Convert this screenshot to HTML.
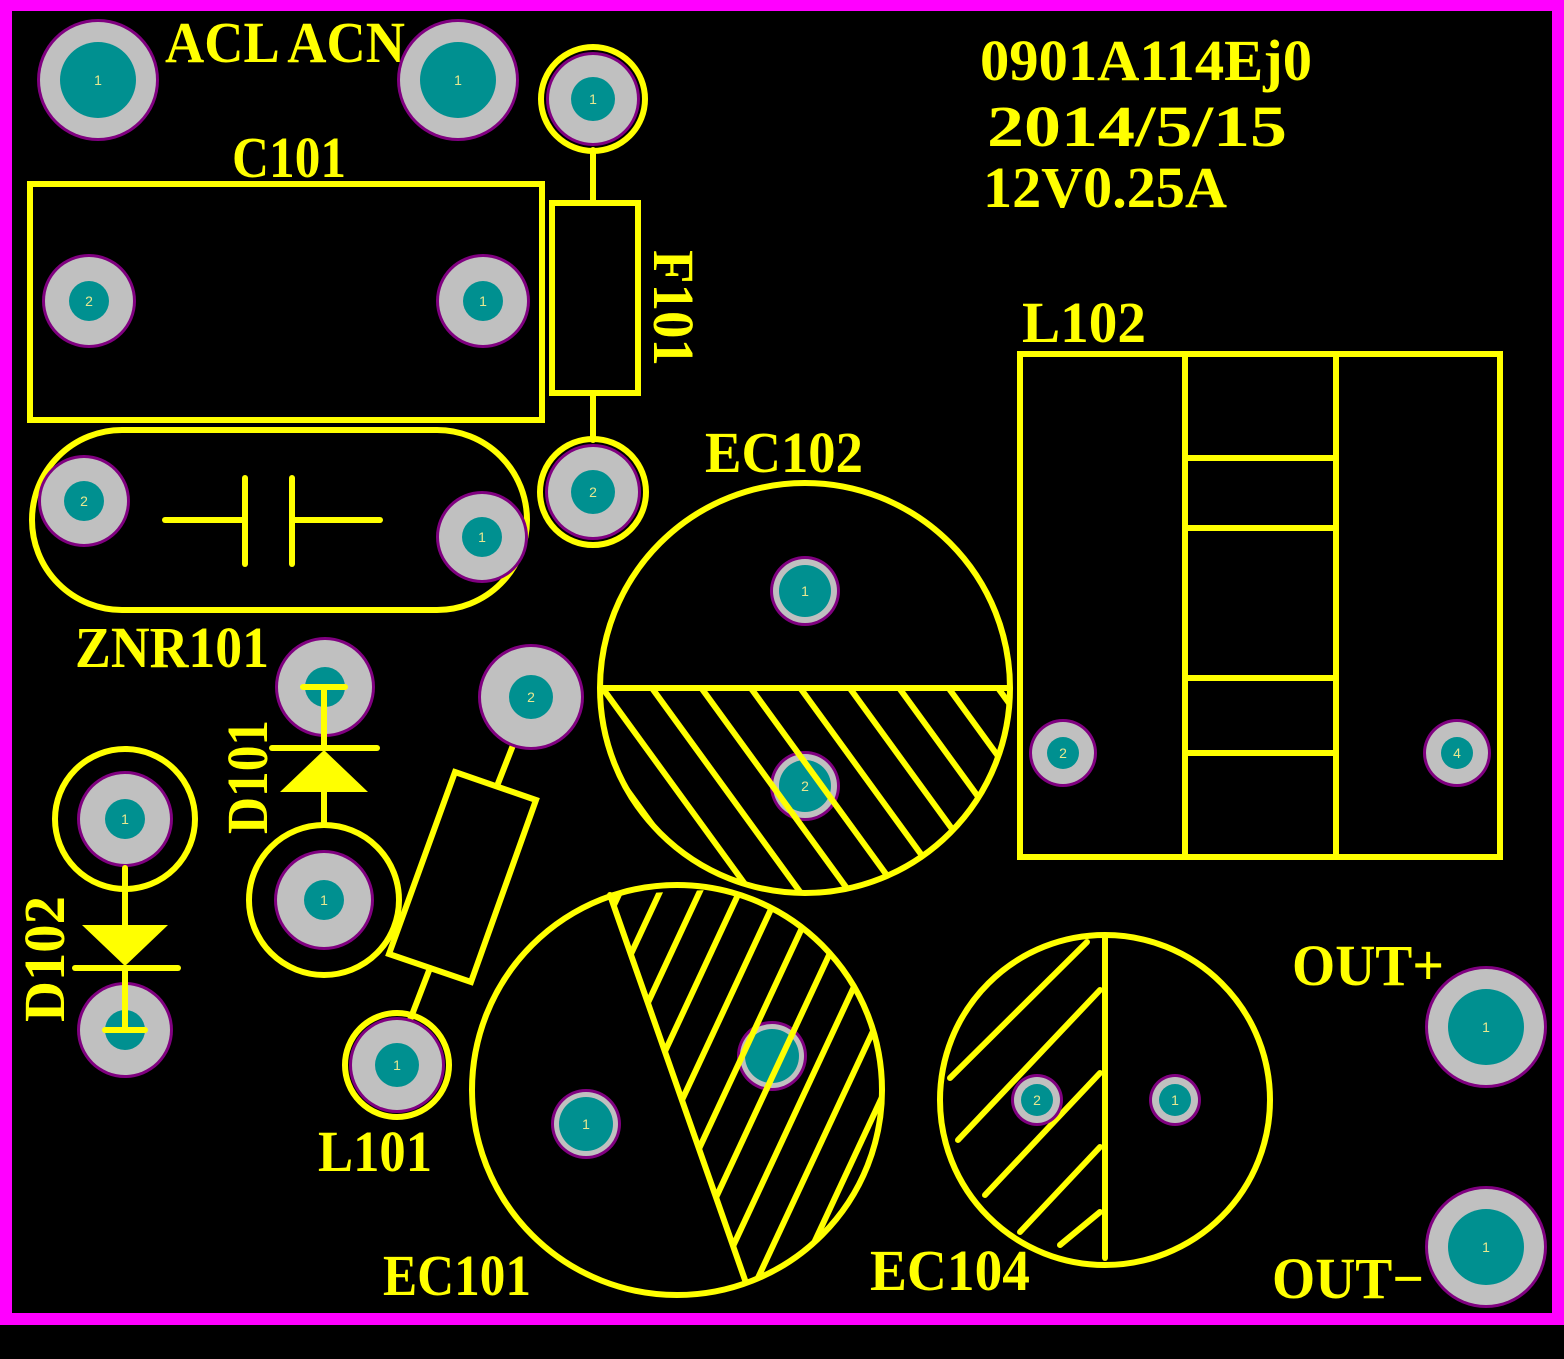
<!DOCTYPE html>
<html><head><meta charset="utf-8"><style>
html,body{margin:0;padding:0;background:#000;}
svg{display:block;}
text{font-family:"Liberation Serif",serif;font-weight:bold;fill:#ffff00;}
.n{font-family:"Liberation Sans",sans-serif;font-weight:normal;fill:#e8e890;text-anchor:middle;}
</style></head><body>
<svg width="1564" height="1359" viewBox="0 0 1564 1359" xmlns="http://www.w3.org/2000/svg">
<defs>
<pattern id="h1" width="40" height="40" patternUnits="userSpaceOnUse" patternTransform="rotate(-36)"><rect x="0" y="0" width="6" height="40" fill="#ff0"/></pattern>
<pattern id="h2" width="36" height="36" patternUnits="userSpaceOnUse" patternTransform="rotate(25)"><rect x="0" y="0" width="6" height="36" fill="#ff0"/></pattern>
<clipPath id="c1"><circle cx="805" cy="688" r="205"/></clipPath>
<clipPath id="c2"><circle cx="677" cy="1090" r="205"/></clipPath>
</defs>
<rect width="1564" height="1359" fill="#000"/>
<rect x="6" y="5" width="1552" height="1314" fill="none" stroke="#ff00ff" stroke-width="12"/>

<g fill="none" stroke="#ff0" stroke-width="6" stroke-linecap="round">
<rect x="30" y="184" width="512" height="236"/>
<rect x="552" y="203" width="86" height="190"/>
<line x1="593" y1="150" x2="593" y2="203"/><line x1="593" y1="393" x2="593" y2="440"/>
<circle cx="593" cy="99" r="52"/><circle cx="593" cy="492" r="53"/>
<rect x="32" y="430" width="495" height="180" rx="90"/>
<line x1="165" y1="520" x2="245" y2="520"/><line x1="245" y1="478" x2="245" y2="564"/>
<line x1="292" y1="478" x2="292" y2="564"/><line x1="292" y1="520" x2="380" y2="520"/>
<rect x="1020" y="354" width="480" height="503"/>
<line x1="1185" y1="354" x2="1185" y2="857"/><line x1="1336" y1="354" x2="1336" y2="857"/>
<line x1="1185" y1="458" x2="1336" y2="458"/><line x1="1185" y1="528" x2="1336" y2="528"/>
<line x1="1185" y1="678" x2="1336" y2="678"/><line x1="1185" y1="753" x2="1336" y2="753"/>
<circle cx="805" cy="688" r="205"/>
<circle cx="677" cy="1090" r="205"/>
<line x1="610" y1="895" x2="745" y2="1280"/>
<circle cx="1105" cy="1100" r="165"/>
<line x1="1105" y1="937" x2="1105" y2="1258"/>
<line x1="950" y1="1078" x2="1087" y2="942"/><line x1="958" y1="1140" x2="1100" y2="990"/>
<line x1="985" y1="1195" x2="1100" y2="1073"/><line x1="1020" y1="1232" x2="1100" y2="1147"/>
<line x1="1060" y1="1245" x2="1100" y2="1212"/>
<circle cx="324" cy="900" r="75"/>
<circle cx="125" cy="819" r="70"/>
<circle cx="397" cy="1065" r="52"/>
<polygon points="455,772 536,800 471,982 389,954"/>
<line x1="519" y1="730" x2="497" y2="786"/><line x1="430" y1="968" x2="410" y2="1020"/>
</g>
<rect x="600" y="685" width="410" height="6" fill="#ff0"/>

<g id="pads">
<g><circle cx="98" cy="80" r="61" fill="#800080"/><circle cx="98" cy="80" r="58" fill="#c0c0c0"/><circle cx="98" cy="80" r="38" fill="#009090"/></g>
<g><circle cx="458" cy="80" r="61" fill="#800080"/><circle cx="458" cy="80" r="58" fill="#c0c0c0"/><circle cx="458" cy="80" r="38" fill="#009090"/></g>
<g><circle cx="593" cy="99" r="47" fill="#800080"/><circle cx="593" cy="99" r="44" fill="#c0c0c0"/><circle cx="593" cy="99" r="22" fill="#009090"/></g>
<g><circle cx="593" cy="492" r="48" fill="#800080"/><circle cx="593" cy="492" r="45" fill="#c0c0c0"/><circle cx="593" cy="492" r="22" fill="#009090"/></g>
<g><circle cx="89" cy="301" r="47" fill="#800080"/><circle cx="89" cy="301" r="44" fill="#c0c0c0"/><circle cx="89" cy="301" r="20" fill="#009090"/></g>
<g><circle cx="483" cy="301" r="47" fill="#800080"/><circle cx="483" cy="301" r="44" fill="#c0c0c0"/><circle cx="483" cy="301" r="20" fill="#009090"/></g>
<g><circle cx="84" cy="501" r="46" fill="#800080"/><circle cx="84" cy="501" r="43" fill="#c0c0c0"/><circle cx="84" cy="501" r="20" fill="#009090"/></g>
<g><circle cx="482" cy="537" r="46" fill="#800080"/><circle cx="482" cy="537" r="43" fill="#c0c0c0"/><circle cx="482" cy="537" r="20" fill="#009090"/></g>
<g><circle cx="805" cy="591" r="35" fill="#800080"/><circle cx="805" cy="591" r="32" fill="#c0c0c0"/><circle cx="805" cy="591" r="26" fill="#009090"/></g>
<g><circle cx="805" cy="786" r="35" fill="#800080"/><circle cx="805" cy="786" r="32" fill="#c0c0c0"/><circle cx="805" cy="786" r="26" fill="#009090"/></g>
<g><circle cx="325" cy="687" r="50" fill="#800080"/><circle cx="325" cy="687" r="47" fill="#c0c0c0"/><circle cx="325" cy="687" r="20" fill="#009090"/></g>
<g><circle cx="324" cy="900" r="50" fill="#800080"/><circle cx="324" cy="900" r="47" fill="#c0c0c0"/><circle cx="324" cy="900" r="20" fill="#009090"/></g>
<g><circle cx="531" cy="697" r="53" fill="#800080"/><circle cx="531" cy="697" r="50" fill="#c0c0c0"/><circle cx="531" cy="697" r="22" fill="#009090"/></g>
<g><circle cx="397" cy="1065" r="48" fill="#800080"/><circle cx="397" cy="1065" r="45" fill="#c0c0c0"/><circle cx="397" cy="1065" r="22" fill="#009090"/></g>
<g><circle cx="125" cy="819" r="48" fill="#800080"/><circle cx="125" cy="819" r="45" fill="#c0c0c0"/><circle cx="125" cy="819" r="20" fill="#009090"/></g>
<g><circle cx="125" cy="1030" r="48" fill="#800080"/><circle cx="125" cy="1030" r="45" fill="#c0c0c0"/><circle cx="125" cy="1030" r="20" fill="#009090"/></g>
<g><circle cx="586" cy="1124" r="35" fill="#800080"/><circle cx="586" cy="1124" r="32" fill="#c0c0c0"/><circle cx="586" cy="1124" r="27" fill="#009090"/></g>
<g><circle cx="772" cy="1056" r="35" fill="#800080"/><circle cx="772" cy="1056" r="32" fill="#c0c0c0"/><circle cx="772" cy="1056" r="27" fill="#009090"/></g>
<g><circle cx="1037" cy="1100" r="26" fill="#800080"/><circle cx="1037" cy="1100" r="23" fill="#c0c0c0"/><circle cx="1037" cy="1100" r="16" fill="#009090"/></g>
<g><circle cx="1175" cy="1100" r="26" fill="#800080"/><circle cx="1175" cy="1100" r="23" fill="#c0c0c0"/><circle cx="1175" cy="1100" r="16" fill="#009090"/></g>
<g><circle cx="1063" cy="753" r="34" fill="#800080"/><circle cx="1063" cy="753" r="31" fill="#c0c0c0"/><circle cx="1063" cy="753" r="16" fill="#009090"/></g>
<g><circle cx="1457" cy="753" r="34" fill="#800080"/><circle cx="1457" cy="753" r="31" fill="#c0c0c0"/><circle cx="1457" cy="753" r="16" fill="#009090"/></g>
<g><circle cx="1486" cy="1027" r="61" fill="#800080"/><circle cx="1486" cy="1027" r="58" fill="#c0c0c0"/><circle cx="1486" cy="1027" r="38" fill="#009090"/></g>
<g><circle cx="1486" cy="1247" r="61" fill="#800080"/><circle cx="1486" cy="1247" r="58" fill="#c0c0c0"/><circle cx="1486" cy="1247" r="38" fill="#009090"/></g>
</g>
<g font-size="14">
<text class="n" x="98" y="85">1</text><text class="n" x="458" y="85">1</text>
<text class="n" x="593" y="104">1</text><text class="n" x="593" y="497">2</text>
<text class="n" x="89" y="306">2</text><text class="n" x="483" y="306">1</text>
<text class="n" x="84" y="506">2</text><text class="n" x="482" y="542">1</text>
<text class="n" x="805" y="596">1</text><text class="n" x="805" y="791">2</text>
<text class="n" x="324" y="905">1</text><text class="n" x="531" y="702">2</text>
<text class="n" x="397" y="1070">1</text><text class="n" x="125" y="824">1</text>
<text class="n" x="586" y="1129">1</text>
<text class="n" x="1037" y="1105">2</text><text class="n" x="1175" y="1105">1</text>
<text class="n" x="1063" y="758">2</text><text class="n" x="1457" y="758">4</text>
<text class="n" x="1486" y="1032">1</text><text class="n" x="1486" y="1252">1</text>
</g>

<rect x="600" y="691" width="410" height="210" fill="url(#h1)" clip-path="url(#c1)"/>
<polygon points="610,895 745,1280 900,1300 900,880" fill="url(#h2)" clip-path="url(#c2)"/>

<g stroke="#ff0" stroke-width="6" stroke-linecap="round" fill="#ff0">
<line x1="303" y1="687" x2="345" y2="687"/>
<line x1="324" y1="687" x2="324" y2="748"/>
<line x1="272" y1="748" x2="377" y2="748"/>
<polygon points="324,750 280,792 368,792" stroke="none"/>
<line x1="324" y1="792" x2="324" y2="825"/>
<line x1="125" y1="868" x2="125" y2="925"/>
<polygon points="82,925 168,925 125,966" stroke="none"/>
<line x1="75" y1="968" x2="178" y2="968"/>
<line x1="125" y1="968" x2="125" y2="1030"/>
<line x1="105" y1="1030" x2="145" y2="1030"/>
</g>

<g font-size="58">
<text x="165" y="62" textLength="240" lengthAdjust="spacingAndGlyphs">ACL ACN</text>
<text x="232" y="177" textLength="114" lengthAdjust="spacingAndGlyphs">C101</text>
<text x="980" y="80" textLength="332" lengthAdjust="spacingAndGlyphs">0901A114Ej0</text>
<text x="987" y="146" textLength="300" lengthAdjust="spacingAndGlyphs">2014/5/15</text>
<text x="983" y="207" textLength="244" lengthAdjust="spacingAndGlyphs">12V0.25A</text>
<text x="1022" y="342" textLength="124" lengthAdjust="spacingAndGlyphs">L102</text>
<text x="705" y="472" textLength="158" lengthAdjust="spacingAndGlyphs">EC102</text>
<text x="75" y="667" textLength="194" lengthAdjust="spacingAndGlyphs">ZNR101</text>
<text x="318" y="1171" textLength="114" lengthAdjust="spacingAndGlyphs">L101</text>
<text x="383" y="1295" textLength="148" lengthAdjust="spacingAndGlyphs">EC101</text>
<text x="870" y="1290" textLength="160" lengthAdjust="spacingAndGlyphs">EC104</text>
<text x="1292" y="985" textLength="152" lengthAdjust="spacingAndGlyphs">OUT+</text>
<text x="1272" y="1298" textLength="152" lengthAdjust="spacingAndGlyphs">OUT−</text>
<text transform="translate(654,250) rotate(90)" textLength="116" lengthAdjust="spacingAndGlyphs">F101</text>
<text transform="translate(267,834) rotate(-90)" textLength="114" lengthAdjust="spacingAndGlyphs">D101</text>
<text transform="translate(64,1022) rotate(-90)" textLength="126" lengthAdjust="spacingAndGlyphs">D102</text>
</g>
</svg>
</body></html>
